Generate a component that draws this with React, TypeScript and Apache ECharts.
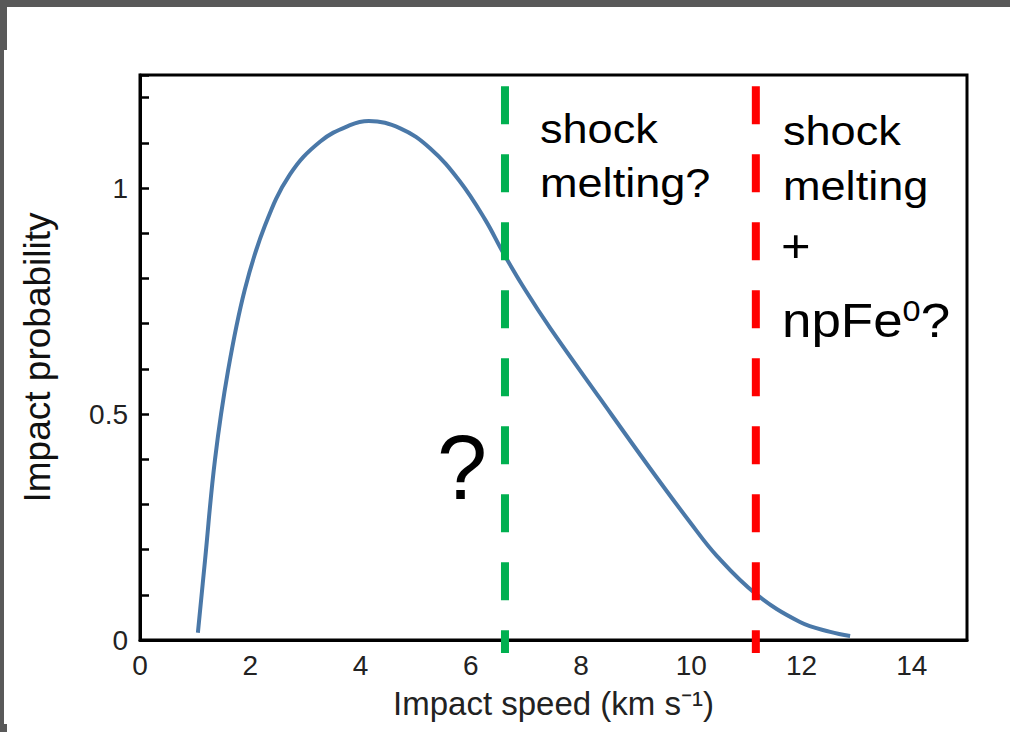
import React, { useEffect, useRef } from "react";
import * as echarts from "echarts";

// Impact speed (km/s) and impact probability
const speed = [1.05, 1.18, 1.36, 1.6, 1.9, 2.27, 2.72, 3.27, 3.81, 4.15, 4.72, 5.26, 5.8, 6.26, 6.6, 7.0, 7.44, 8.34, 9.25, 9.98, 10.47, 11.17, 11.97, 12.52, 12.88];
const probability = [0.016, 0.177, 0.399, 0.598, 0.775, 0.918, 1.03, 1.103, 1.139, 1.148, 1.132, 1.088, 1.015, 0.93, 0.854, 0.772, 0.69, 0.535, 0.38, 0.26, 0.185, 0.102, 0.04, 0.018, 0.009];

// Threshold speeds (dashed vertical lines)
const thresholdGreen = 6.62;
const thresholdRed = 11.17;
const thresholdSpan = [1.225, -0.029];

const xTicks = [0, 2, 4, 6, 8, 10, 12, 14];
const yLabels = [0, 0.5, 1];

const FONT = '"Liberation Sans", Arial, Helvetica, sans-serif';

export default function App() {
  const ref = useRef<HTMLDivElement>(null);
  useEffect(() => {
    if (!ref.current) return;
    const chart = echarts.init(ref.current, null, { renderer: "svg" });
    const curve = speed.map((s, i) => [s, probability[i]]);
    const vline = (x: number) => thresholdSpan.map((y) => [x, y]);
    const textEl = (text: string, x: number, y: number, size: number, sx = 1.1) => ({
      type: "text",
      x,
      y,
      scaleX: sx,
      z: 100,
      style: { text, fontSize: size, fontFamily: FONT, fill: "#000", align: "left", verticalAlign: "middle" },
    });
    chart.setOption({
      animation: false,
      backgroundColor: "#fff",
      grid: {
        left: 140,
        top: 75,
        right: 43,
        bottom: 92,
        outerBoundsMode: "none",
        containLabel: false,
        show: true,
        borderColor: "#000",
        borderWidth: 3,
        backgroundColor: "transparent",
      },
      xAxis: {
        type: "value",
        min: 0,
        max: 15,
        interval: 2,
        name: "Impact speed (km s⁻¹)",
        nameLocation: "middle",
        nameGap: 47,
        nameMoveOverlap: false,
        nameTextStyle: { fontSize: 33, fontFamily: FONT, color: "#222" },
        axisLine: { show: true, lineStyle: { color: "#000", width: 3 } },
        axisTick: { show: false },
        splitLine: { show: false },
        axisLabel: {
          fontSize: 28,
          fontFamily: FONT,
          color: "#222",
          margin: 11,
          showMaxLabel: false,
          formatter: (v: number) => (xTicks.includes(v) ? String(v) : ""),
        },
      },
      yAxis: {
        type: "value",
        min: 0,
        max: 1.25,
        interval: 0.1,
        name: "Impact probability",
        nameLocation: "middle",
        nameRotate: 90,
        nameGap: 84,
        nameMoveOverlap: false,
        nameTextStyle: { fontSize: 37, fontFamily: FONT, color: "#111" },
        axisLine: { show: true, lineStyle: { color: "#000", width: 3 } },
        axisTick: { show: true, inside: true, length: 9, lineStyle: { color: "#000", width: 2.5 } },
        splitLine: { show: false },
        axisLabel: {
          fontSize: 28,
          fontFamily: FONT,
          color: "#222",
          margin: 12,
          formatter: (v: number) => {
            const hit = yLabels.find((l) => Math.abs(l - v) < 1e-6);
            return hit === undefined ? "" : String(hit);
          },
        },
      },
      series: [
        {
          type: "line",
          data: curve,
          smooth: 0.4,
          showSymbol: false,
          lineStyle: { color: "#4a78a8", width: 4 },
          z: 3,
        },
        {
          type: "line",
          data: vline(thresholdGreen),
          showSymbol: false,
          clip: false,
          lineStyle: { color: "#00b050", width: 8, type: [38, 30], cap: "butt" },
          z: 4,
        },
        {
          type: "line",
          data: vline(thresholdRed),
          showSymbol: false,
          clip: false,
          lineStyle: { color: "#ff0000", width: 8, type: [38, 30], cap: "butt" },
          z: 4,
        },
      ],
      graphic: [
        { type: "rect", shape: { x: 0, y: 0, width: 1010, height: 7 }, style: { fill: "#595959" }, silent: true },
        { type: "rect", shape: { x: 0, y: 0, width: 7, height: 50 }, style: { fill: "#595959" }, silent: true },
        { type: "rect", shape: { x: 0, y: 50, width: 4, height: 682 }, style: { fill: "#595959" }, silent: true },
        { type: "rect", shape: { x: 0, y: 724, width: 7, height: 8 }, style: { fill: "#595959" }, silent: true },
        textEl("shock", 540, 129, 41),
        textEl("melting?", 540, 183, 41),
        textEl("shock", 783, 131, 41),
        textEl("melting", 783, 186, 41),
        textEl("+", 781, 246, 46),
        {
          type: "text",
          x: 782,
          y: 320,
          scaleX: 1.08,
          z: 100,
          style: {
            text: "{b|npFe}{s|0}{b|?}",
            fontFamily: FONT,
            fill: "#000",
            align: "left",
            verticalAlign: "middle",
            rich: {
              b: { fontSize: 49, fontFamily: FONT, fill: "#000" },
              s: { fontSize: 30, fontFamily: FONT, fill: "#000", verticalAlign: "top" },
            },
          },
        },
        {
          type: "text",
          x: 462,
          y: 468,
          z: 100,
          style: { text: "?", fontSize: 90, fontFamily: FONT, fill: "#000", align: "center", verticalAlign: "middle" },
        },
      ],
    });
    return () => chart.dispose();
  }, []);
  return <div ref={ref} style={{ position: "fixed", left: 0, top: 0, width: 1010, height: 732, background: "#fff" }} />;
}
